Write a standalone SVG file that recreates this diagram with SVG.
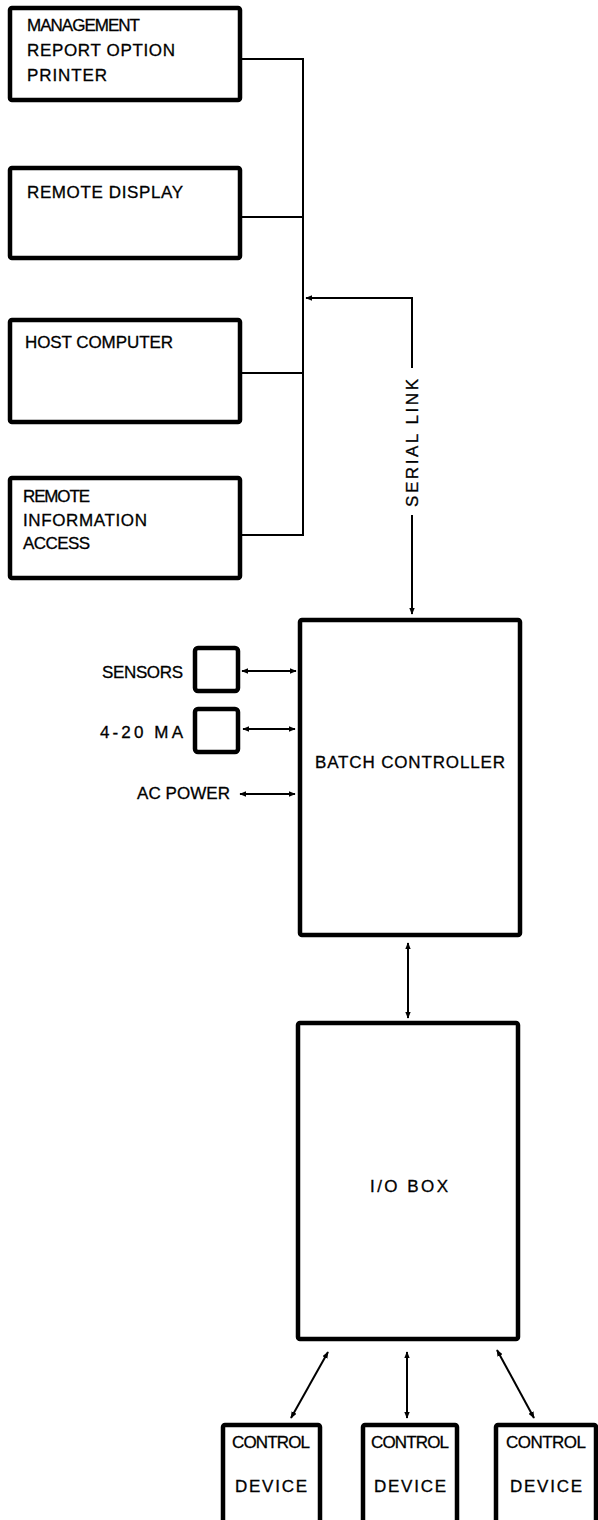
<svg xmlns="http://www.w3.org/2000/svg" width="598" height="1520" viewBox="0 0 598 1520">
<style>
.box{fill:#fff;stroke:#000;stroke-width:4.5;stroke-linejoin:round}
.ln{fill:none;stroke:#000;stroke-width:2}
.t{font-family:"Liberation Sans",Arial,sans-serif;font-size:17px;fill:#000;stroke:#000;stroke-width:0.3}
.c{text-anchor:middle}
.r{text-anchor:end}
</style>
<defs>
<marker id="ah" viewBox="0 0 10 8" refX="9" refY="4" markerWidth="7" markerHeight="5.6" markerUnits="userSpaceOnUse" orient="auto-start-reverse">
<path d="M0,0 L10,4 L0,8 Z" fill="#000"/>
</marker>
</defs>
<rect width="598" height="1520" fill="#fff"/>

<g id="connectors">
<path class="ln" d="M240,59 H303 V535 H240"/>
<path class="ln" d="M240,217 H303"/>
<path class="ln" d="M240,373 H303"/>
<path class="ln" d="M412,368 V298 H306" marker-end="url(#ah)"/>
<path class="ln" d="M412,515 V614" marker-end="url(#ah)"/>
<path class="ln" d="M242,671 H296" marker-start="url(#ah)" marker-end="url(#ah)"/>
<path class="ln" d="M243,729 H295" marker-start="url(#ah)" marker-end="url(#ah)"/>
<path class="ln" d="M240,794 H295" marker-start="url(#ah)" marker-end="url(#ah)"/>
<path class="ln" d="M408,943 V1018" marker-start="url(#ah)" marker-end="url(#ah)"/>
<path class="ln" d="M328,1352 L291,1418" marker-start="url(#ah)" marker-end="url(#ah)"/>
<path class="ln" d="M407,1352 V1418" marker-start="url(#ah)" marker-end="url(#ah)"/>
<path class="ln" d="M497,1350 L534,1418" marker-start="url(#ah)" marker-end="url(#ah)"/>
<text class="t c" transform="translate(418,443) rotate(-90)" textLength="128" lengthAdjust="spacing">SERIAL LINK</text>
</g>

<g id="management-printer">
<rect class="box" x="10" y="8" width="230" height="92" rx="2"/>
<text class="t" x="27" y="31" textLength="113" lengthAdjust="spacing">MANAGEMENT</text>
<text class="t" x="27" y="56" textLength="148" lengthAdjust="spacing">REPORT OPTION</text>
<text class="t" x="27" y="81" textLength="80" lengthAdjust="spacing">PRINTER</text>
</g>

<g id="remote-display">
<rect class="box" x="10" y="168" width="230" height="90" rx="2"/>
<text class="t" x="27" y="198" textLength="156" lengthAdjust="spacing">REMOTE DISPLAY</text>
</g>

<g id="host-computer">
<rect class="box" x="10" y="320" width="230" height="102" rx="2"/>
<text class="t" x="25" y="348" textLength="148" lengthAdjust="spacing">HOST COMPUTER</text>
</g>

<g id="remote-info">
<rect class="box" x="10" y="478" width="230" height="100" rx="2"/>
<text class="t" x="23" y="502" textLength="67" lengthAdjust="spacing">REMOTE</text>
<text class="t" x="23" y="526" textLength="124" lengthAdjust="spacing">INFORMATION</text>
<text class="t" x="23" y="549" textLength="67" lengthAdjust="spacing">ACCESS</text>
</g>

<g id="sensors">
<rect class="box" x="195" y="648" width="43" height="43" rx="3"/>
<text class="t r" x="183" y="678" textLength="81" lengthAdjust="spacing">SENSORS</text>
</g>

<g id="ma420">
<rect class="box" x="195" y="709" width="43" height="43" rx="3"/>
<text class="t r" x="183" y="738" textLength="83" lengthAdjust="spacing">4-20 MA</text>
</g>

<g id="ac-power">
<text class="t r" x="230" y="799" textLength="93" lengthAdjust="spacing">AC POWER</text>
</g>

<g id="batch-controller">
<rect class="box" x="300" y="620" width="220" height="315" rx="2"/>
<text class="t c" x="410" y="768" textLength="190" lengthAdjust="spacing">BATCH CONTROLLER</text>
</g>

<g id="io-box">
<rect class="box" x="298" y="1023" width="220" height="316" rx="2"/>
<text class="t c" x="409" y="1192" textLength="78" lengthAdjust="spacing">I/O BOX</text>
</g>

<g id="control-device-1">
<rect class="box" x="223" y="1425" width="97" height="100" rx="2"/>
<text class="t c" x="271" y="1448" textLength="78" lengthAdjust="spacing">CONTROL</text>
<text class="t c" x="271" y="1492" textLength="72" lengthAdjust="spacing">DEVICE</text>
</g>

<g id="control-device-2">
<rect class="box" x="363" y="1425" width="94" height="100" rx="2"/>
<text class="t c" x="410" y="1448" textLength="78" lengthAdjust="spacing">CONTROL</text>
<text class="t c" x="410" y="1492" textLength="72" lengthAdjust="spacing">DEVICE</text>
</g>

<g id="control-device-3">
<rect class="box" x="496" y="1425" width="100" height="100" rx="2"/>
<text class="t c" x="546" y="1448" textLength="80" lengthAdjust="spacing">CONTROL</text>
<text class="t c" x="546" y="1492" textLength="72" lengthAdjust="spacing">DEVICE</text>
</g>
</svg>
